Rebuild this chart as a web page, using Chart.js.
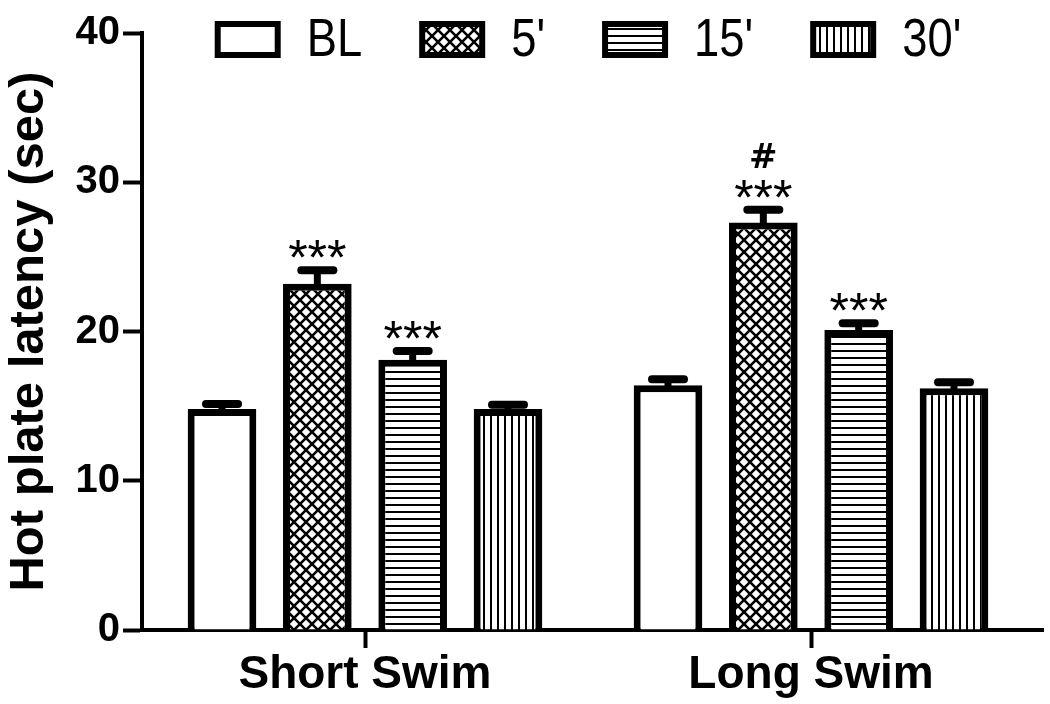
<!DOCTYPE html>
<html>
<head>
<meta charset="utf-8">
<script src="https://cdn.jsdelivr.net/npm/chart.js@4.4.1/dist/chart.umd.min.js"></script>
<style>
  html, body { margin: 0; padding: 0; background: #fff; }
  #wrap { width: 1050px; height: 704px; }
</style>
</head>
<body>
<div id="wrap"><canvas id="c" width="1050" height="704"></canvas></div>
<script>
// ---- data ----
const categories = ['Short Swim', 'Long Swim'];
const seriesNames = ['BL', "5'", "15'", "30'"];
const valuesBL  = [14.8, 16.4];
const values5   = [23.2, 27.3];
const values15  = [18.1, 20.1];
const values30  = [14.8, 16.2];
const semBL  = [0.35, 0.40];
const sem5   = [0.90, 0.85];
const sem15  = [0.60, 0.45];
const sem30  = [0.30, 0.40];
const starsBL = ['', ''];
const stars5  = ['***', '***'];
const stars15 = ['***', '***'];
const stars30 = ['', ''];
const hashBL  = ['', ''];
const hash5   = ['', '#'];
const hash15  = ['', ''];
const hash30  = ['', ''];
const yTicks = [0, 10, 20, 30, 40];

const FONT = "'Liberation Sans', Arial, sans-serif";

function makePattern(kind) {
  const c = document.createElement('canvas');
  const x = c.getContext('2d');
  if (kind === 'white') {
    c.width = 4; c.height = 4;
    x.fillStyle = '#fff'; x.fillRect(0, 0, 4, 4);
  } else if (kind === 'cross') {
    const s = 12;
    c.width = s; c.height = s;
    x.fillStyle = '#fff'; x.fillRect(0, 0, s, s);
    x.strokeStyle = '#000'; x.lineWidth = 2.6;
    x.beginPath();
    x.moveTo(-2, -2); x.lineTo(s + 2, s + 2);
    x.moveTo(s + 2, -2); x.lineTo(-2, s + 2);
    x.stroke();
  } else if (kind === 'horiz') {
    c.width = 8; c.height = 7;
    x.fillStyle = '#fff'; x.fillRect(0, 0, 8, 7);
    x.fillStyle = '#000'; x.fillRect(0, 0, 8, 2);
  } else if (kind === 'vert') {
    c.width = 7; c.height = 8;
    x.fillStyle = '#fff'; x.fillRect(0, 0, 7, 8);
    x.fillStyle = '#000'; x.fillRect(0, 0, 2, 8);
  }
  return document.getElementById('c').getContext('2d').createPattern(c, 'repeat');
}

const fills = [makePattern('white'), makePattern('cross'), makePattern('horiz'), makePattern('vert')];
const allValues = [valuesBL, values5, values15, values30];
const allSem = [semBL, sem5, sem15, sem30];
const allStars = [starsBL, stars5, stars15, stars30];
const allHash = [hashBL, hash5, hash15, hash30];

const datasets = seriesNames.map((n, i) => ({
  label: n,
  data: allValues[i],
  sem: allSem[i],
  stars: allStars[i],
  hash: allHash[i],
  backgroundColor: fills[i],
  borderColor: '#000',
  borderWidth: 7,
  barPercentage: 0.72,
  categoryPercentage: 0.855
}));

const errorAndLegend = {
  id: 'errorAndLegend',
  afterDatasetsDraw(chart) {
    const ctx = chart.ctx;
    const y = chart.scales.y;
    ctx.save();
    chart.data.datasets.forEach((ds, i) => {
      const meta = chart.getDatasetMeta(i);
      meta.data.forEach((bar, j) => {
        const v = ds.data[j];
        const yTop = y.getPixelForValue(v + ds.sem[j]);
        ctx.strokeStyle = '#000';
        ctx.lineWidth = 7;
        ctx.lineCap = 'butt';
        ctx.beginPath();
        ctx.moveTo(bar.x, bar.y + 3);
        ctx.lineTo(bar.x, yTop);
        ctx.stroke();
        ctx.lineWidth = 8;
        ctx.lineCap = 'round';
        ctx.beginPath();
        ctx.moveTo(bar.x - 16, yTop);
        ctx.lineTo(bar.x + 16, yTop);
        ctx.stroke();
        // significance marks
        let bottom = yTop - 4 - 8;
        ctx.fillStyle = '#000';
        ctx.textAlign = 'center';
        ctx.textBaseline = 'alphabetic';
        if (ds.stars[j]) {
          ctx.font = '50px ' + FONT;
          const m = ctx.measureText(ds.stars[j]);
          const base = bottom - m.actualBoundingBoxDescent;
          ctx.fillText(ds.stars[j], bar.x, base);
          bottom = base - m.actualBoundingBoxAscent - 12;
        }
        if (ds.hash[j]) {
          ctx.font = "bold 34px 'DejaVu Sans', " + FONT;
          const m = ctx.measureText(ds.hash[j]);
          const base = bottom - m.actualBoundingBoxDescent;
          ctx.fillText(ds.hash[j], bar.x, base);
        }
      });
    });
    ctx.restore();
  },
  afterDraw(chart) {
    const ctx = chart.ctx;
    const a = chart.chartArea;
    ctx.save();
    // x-axis extension to the right
    ctx.strokeStyle = '#000';
    ctx.lineWidth = 4;
    ctx.beginPath();
    ctx.moveTo(a.right - 2, a.bottom);
    ctx.lineTo(a.right + 10, a.bottom);
    ctx.stroke();
    // legend
    const boxW = 66, boxH = 37, bw = 6, gap = 26, itemGap = 57, sx = 0.84;
    ctx.font = '54px ' + FONT;
    const widths = chart.data.datasets.map(d => ctx.measureText(d.label).width * sx);
    let total = 0;
    widths.forEach((w, i) => { total += boxW + gap + w + (i < widths.length - 1 ? itemGap : 0); });
    let cx = (a.left + a.right) / 2 - total / 2;
    const top = 21;
    chart.data.datasets.forEach((d, i) => {
      ctx.fillStyle = '#000';
      ctx.fillRect(cx, top, boxW, boxH);
      ctx.fillStyle = d.backgroundColor;
      ctx.fillRect(cx + bw, top + bw, boxW - 2 * bw, boxH - 2 * bw);
      ctx.fillStyle = '#000';
      ctx.textAlign = 'left';
      ctx.textBaseline = 'middle';
      ctx.save();
      ctx.translate(cx + boxW + gap, top + boxH / 2 + 2);
      ctx.scale(sx, 1);
      ctx.fillText(d.label, 0, 0);
      ctx.restore();
      cx += boxW + gap + widths[i] + itemGap;
    });
    ctx.restore();
  }
};

new Chart(document.getElementById('c'), {
  type: 'bar',
  data: { labels: categories, datasets },
  options: {
    responsive: false,
    animation: false,
    devicePixelRatio: 1,
    layout: { padding: { top: 33, right: 16, left: 0, bottom: 0 } },
    plugins: { legend: { display: false }, tooltip: { enabled: false } },
    scales: {
      x: {
        offset: true,
        grid: { display: true, drawOnChartArea: false, offset: false, tickLength: 18, tickWidth: 4, tickColor: '#000', color: '#000' },
        border: { display: true, width: 4, color: '#000' },
        ticks: { color: '#000', padding: 0, font: { family: FONT, size: 46, weight: 'bold' } },
        afterFit(s) { s.height = 74; }
      },
      y: {
        min: 0, max: 40,
        afterBuildTicks(s) { s.ticks = yTicks.map(v => ({ value: v })); },
        grid: { display: true, drawOnChartArea: false, tickLength: 19, tickWidth: 4, tickColor: '#000', color: '#000' },
        border: { display: true, width: 4, color: '#000' },
        ticks: { color: '#000', padding: 3, font: { family: FONT, size: 40, weight: 'bold' } },
        title: { display: true, text: 'Hot plate latency (sec)', color: '#000', padding: { top: 0, bottom: 0 }, font: { family: FONT, size: 49, weight: 'bold' } },
        afterFit(s) { s.width = 142; }
      }
    }
  },
  plugins: [errorAndLegend]
});
</script>
</body>
</html>
